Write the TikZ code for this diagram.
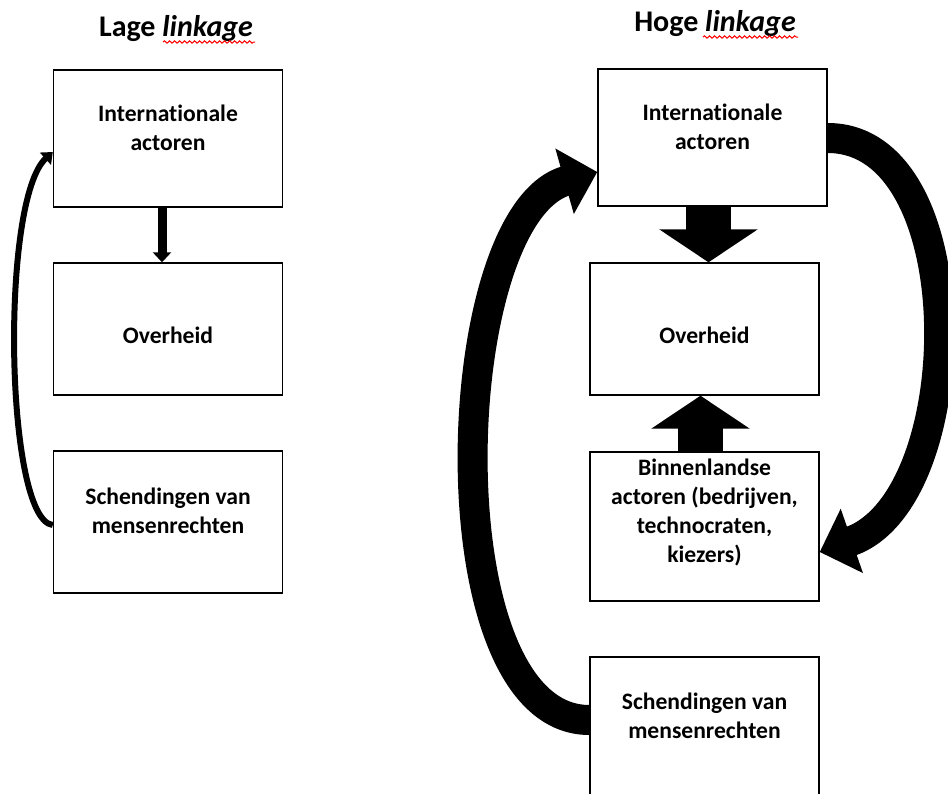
\documentclass[tikz,border=0pt]{standalone}
\usepackage{fontspec}
\setmainfont[Ligatures=NoCommon]{Carlito}
\usetikzlibrary{arrows.meta,decorations.pathmorphing}

\tikzset{
  box/.style={draw, line width=0.7pt, fill=white, minimum width=114.5pt, inner sep=0pt},
  lbl/.style={font=\bfseries\fontsize{11.8}{14.5}\selectfont, align=center, inner sep=0pt},
  ttl/.style={font=\bfseries\fontsize{15}{18}\selectfont, inner sep=0pt},
  thinarr/.style={line width=3pt, -{Triangle[width=8pt,length=5pt]}},
  bigarr/.style={line width=15pt, -{Triangle[width=33pt,length=17pt]}},
  blockarr/.style={line width=22.5pt, -{Triangle[width=48.5pt,length=16.5pt]}},
  squiggle/.style={red, line width=0.5pt, decorate, decoration={snake, amplitude=0.6pt, segment length=2.5pt}}
}

\begin{document}
\begin{tikzpicture}[x=0.5pt,y=-0.5pt]
\useasboundingbox (0,0) rectangle (948,793);

\node[ttl] (LageT) at (176,29) {Lage \textit{linkage}};
\node[ttl] (HogeT) at (715,24) {Hoge \textit{linkage}};
\draw[squiggle] (163,42) -- (255,42);
\draw[squiggle] (703,37) -- (798,37);

\node[box, minimum height=68.5pt] (IntL) at (168,138.5) {};
\node[box, minimum height=66pt] (OverL) at (168,329) {};
\node[box, minimum height=71pt] (SchL) at (168,522) {};
\node[lbl] (IntLt) at (168,128) {Internationale\\actoren};
\node[lbl] (OverLt) at (168,335) {Overheid};
\node[lbl] (SchLt) at (168,511) {Schendingen van\\mensenrechten};

\node[box, minimum height=68.5pt] (IntH) at (712.5,137.5) {};
\node[box, minimum height=66pt] (OverH) at (704.5,329) {};
\node[box, minimum height=74.5pt] (BinH) at (704.5,526.5) {};
\node[box, minimum height=76.5pt] (SchH) at (704.5,733.5) {};
\node[lbl] (IntHt) at (712.5,127) {Internationale\\actoren};
\node[lbl] (OverHt) at (704.5,335) {Overheid};
\node[lbl] (BinHt) at (704.5,512) {Binnenlandse\\actoren (bedrijven,\\technocraten,\\kiezers)};
\node[lbl] (SchHt) at (704.5,716) {Schendingen van\\mensenrechten};

\draw[thinarr, line width=4.5pt, -{Triangle[width=9pt,length=5pt]}] ([xshift=-3pt]IntL.south) -- ([xshift=-3pt]OverL.north);
\draw[thinarr] (SchL.west |- 0,525) .. controls (5,520) and (0,200) .. (IntL.west |- 0,152);

\draw[blockarr] ([xshift=-2pt]IntH.south) -- ([xshift=2pt]OverH.north);
\draw[blockarr] ([xshift=-2pt]BinH.north) -- ([xshift=-2pt]OverH.south);
\draw[bigarr] (SchH.west |- 0,720) .. controls (430,720) and (445,215) .. (IntH.west |- 0,172);
\draw[bigarr] (IntH.east |- 0,138) .. controls (975,138) and (970,500) .. (BinH.east |- 0,552);
\end{tikzpicture}
\end{document}
